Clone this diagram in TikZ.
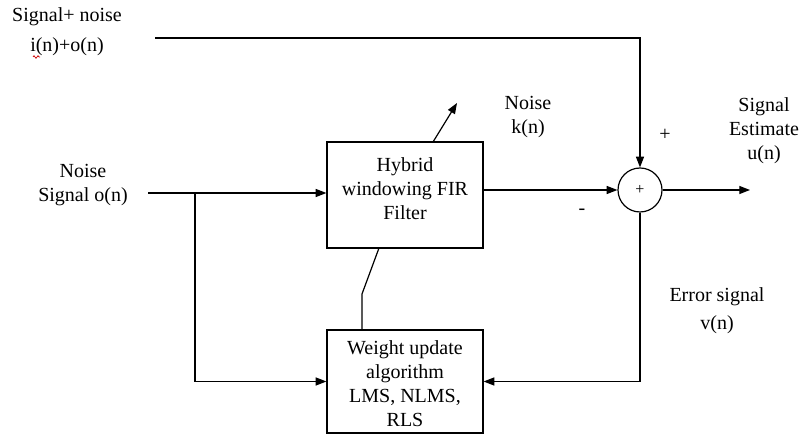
\documentclass[tikz,border=0pt]{standalone}
\usepackage{fontspec}
\setmainfont{Liberation Serif}
\usetikzlibrary{arrows.meta,decorations.pathmorphing}
\begin{document}
\begin{tikzpicture}[x=0.75pt,y=-0.75pt,
  font=\fontsize{15}{18}\selectfont,
  line width=0.9pt,
  box/.style={draw,rectangle,inner sep=0pt},
  sumnode/.style={draw,circle,minimum size=33pt,inner sep=0pt},
  txt/.style={align=center,inner sep=0pt},
  arr/.style={-{Triangle[length=8pt,width=6pt]}}]
\useasboundingbox (0,0) rectangle (804,434);

% blocks
\node[box,minimum width=117pt,minimum height=79.5pt] (filter) at (405,195) {};
\node[txt] (filtertxt) at (405,189) {Hybrid\\windowing FIR\\Filter};
\node[box,minimum width=117pt,minimum height=77.25pt] (weight) at (405,381.5) {};
\node[txt] (weighttxt) at (405,384) {Weight update\\algorithm\\LMS, NLMS,\\RLS};
\node[sumnode] (sum) at (640,190) {\fontsize{12}{12}\selectfont +};

% labels
\node[txt] (inlbl) at (67,32) {Signal+ noise\\[4.5pt]i(n)+o(n)};
\node[txt] (noiselbl) at (83,185) {Noise\\Signal o(n)};
\node[txt] (knlbl) at (528,117) {Noise\\k(n)};
\node[txt] (estlbl) at (764,131) {Signal\\Estimate\\u(n)};
\node[txt] (errlbl) at (717,311) {Error signal\\[3pt]v(n)};
\node[txt] (plus) at (665,135) {+};
\node[txt] (minus) at (582,212) {-};

% spell-check squiggle under the i
\draw[red!80!black,line width=0.5pt,decorate,decoration={zigzag,amplitude=1pt,segment length=3pt}]
  (33,57) -- (40,57);

% coordinates for free ends
\coordinate (topstart) at (155,38);
\coordinate (noisestart) at (148,193);
\coordinate (branch) at (195,193);
\coordinate (outend) at (750,190);
\coordinate (kend) at (457,103);
\coordinate (kstart) at (433,142);
\coordinate (fb1) at (379,248);
\coordinate (fb2) at (362,294);
\coordinate (fb3) at (362,330);

% connectors
\draw[arr] (topstart) -| (sum.north);
\draw[arr] (noisestart) -- (noisestart -| filter.west);
\draw[arr] (branch) |- (weight.west);
\draw[arr] (filter.east |- sum.west) -- (sum.west);
\draw[arr] (sum.east) -- (outend);
\draw[arr] (sum.south) |- (weight.east);
\draw[arr] (kstart) -- (kend);
\draw (fb1) -- (fb2) -- (fb3);
\end{tikzpicture}
\end{document}
